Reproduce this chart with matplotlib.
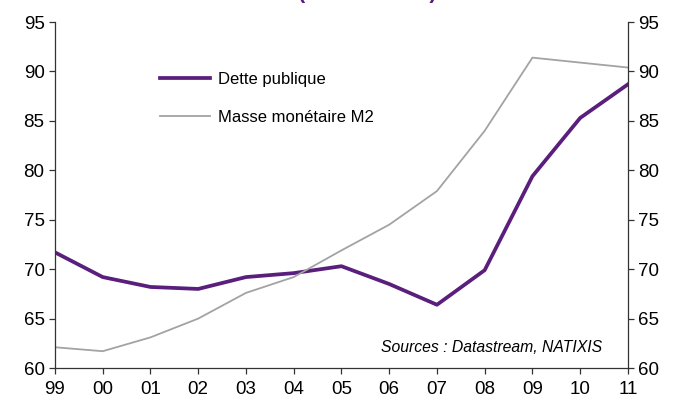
import matplotlib.pyplot as plt

years = ["99", "00", "01", "02", "03", "04", "05", "06", "07", "08", "09", "10", "11"]
dette = [71.7, 69.2, 68.2, 68.0, 69.2, 69.6, 70.3, 68.5, 66.4, 69.9, 79.4, 85.3, 88.7]
m2 = [62.1, 61.7, 63.1, 65.0, 67.6, 69.2, 71.9, 74.5, 77.9, 84.0, 91.4, 90.9, 90.4]
yticks = [60, 65, 70, 75, 80, 85, 90, 95]

plt.rcParams['font.family'] = ['Liberation Sans', 'DejaVu Sans']
purple = "#5a1e7c"
grey = "#a3a3a3"

fig = plt.figure(figsize=(6.73, 4.07), dpi=100)
ax = fig.add_axes([0.0817, 0.0958, 0.8513, 0.85])

x = list(range(len(years)))
ax.plot(x, dette, color=purple, lw=2.7, label="Dette publique", solid_joinstyle="round")
ax.plot(x, m2, color=grey, lw=1.3, label="Masse monétaire M2")

ax.set_xlim(0, len(years) - 1)
ax.set_ylim(60, 95)
ax.set_xticks(x)
ax.set_xticklabels(years)
ax.set_yticks(yticks)
ax.spines["top"].set_visible(False)
for s in ["left", "right", "bottom"]:
    ax.spines[s].set_color("#333333")
    ax.spines[s].set_linewidth(0.9)
ax.tick_params(axis="both", direction="out", length=4, width=0.9, color="#333333",
               labelsize=13.5, labelcolor="black")
ax.tick_params(axis="y", right=True, labelright=True)
ax.tick_params(axis="x", pad=5)

leg = ax.legend(loc="upper left", bbox_to_anchor=(0.183, 0.857), frameon=False,
                fontsize=12, handlelength=3.0, labelspacing=1.4, handletextpad=0.5,
                borderpad=0, borderaxespad=0)

ax.text(0.955, 0.06, "Sources : Datastream, NATIXIS", transform=ax.transAxes,
        ha="right", va="center", fontsize=11.3, style="italic")

# title lies mostly above the picture, as in the original export
fig.text(0.546, 1 + 2.0 / 407, "(en % du PIB)", ha="center", va="baseline",
         fontsize=15.5, fontweight="bold", color=purple)

fig.savefig("out.png", dpi=100)
